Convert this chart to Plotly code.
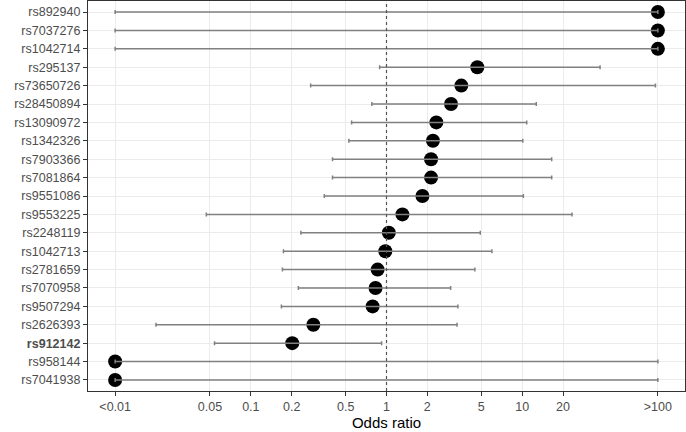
import plotly.graph_objects as go

# SNPs top to bottom
snps = ["rs892940", "rs7037276", "rs1042714", "rs295137", "rs73650726",
        "rs28450894", "rs13090972", "rs1342326", "rs7903366", "rs7081864",
        "rs9551086", "rs9553225", "rs2248119", "rs1042713", "rs2781659",
        "rs7070958", "rs9507294", "rs2626393", "rs912142", "rs958144",
        "rs7041938"]
odds = [100, 100, 100, 4.67, 3.56, 2.99, 2.33, 2.20, 2.13, 2.13,
        1.84, 1.31, 1.04, 0.98, 0.86, 0.83, 0.79, 0.289, 0.202, 0.01, 0.01]
ci_low = [0.01, 0.01, 0.01, 0.89, 0.276, 0.78, 0.553, 0.528, 0.40, 0.40,
          0.348, 0.047, 0.234, 0.174, 0.171, 0.224, 0.168, 0.020, 0.054, 0.01, 0.01]
ci_high = [100, 100, 100, 37.5, 96, 12.7, 10.8, 10.1, 16.5, 16.5,
           10.2, 23.3, 4.91, 5.98, 4.48, 2.97, 3.36, 3.31, 0.92, 100, 100]
tick_vals = [0.01, 0.05, 0.1, 0.2, 0.5, 1, 2, 5, 10, 20, 100]
tick_text = ["<0.01", "0.05", "0.1", "0.2", "0.5", "1", "2", "5", "10", "20", ">100"]
bold_snp = "rs912142"

labels = [f"<b>{s}</b>" if s == bold_snp else s for s in snps]
n = len(labels)

fig = go.Figure()

fig.add_trace(go.Scatter(
    x=odds, y=labels, mode="markers",
    marker=dict(color="black", size=14),
    showlegend=False, hoverinfo="skip"))

# CI bars drawn above the points, like the original
fig.add_trace(go.Scatter(
    x=odds, y=labels, mode="markers",
    marker=dict(color="rgba(0,0,0,0)", size=1),
    error_x=dict(type="data", symmetric=False,
                 array=[h - o for h, o in zip(ci_high, odds)],
                 arrayminus=[o - l for o, l in zip(odds, ci_low)],
                 color="#808080", thickness=1.5, width=2),
    showlegend=False))

fig.add_vline(x=1, line=dict(color="#555555", width=1.2, dash="dot"))

fig.update_layout(
    width=686, height=432,
    margin=dict(l=88, r=1, t=1, b=41),
    plot_bgcolor="white", paper_bgcolor="white",
    font=dict(family="Liberation Sans, Arial, sans-serif", size=12.5, color="#4d4d4d"),
    xaxis=dict(type="log", range=[-2.2, 2.2],
               tickvals=tick_vals, ticktext=tick_text,
               showgrid=True, gridcolor="#ebebeb", gridwidth=1,
               ticks="outside", ticklen=4, tickcolor="#333333",
               showline=True, linecolor="#333333", linewidth=1.2, mirror=True,
               zeroline=False,
               title=dict(text="Odds ratio", font=dict(size=15, color="black"), standoff=2),
               tickfont=dict(size=12.5, color="#4d4d4d")),
    yaxis=dict(type="category", categoryorder="array", categoryarray=labels,
               range=[n - 0.4, -0.6],
               showgrid=True, gridcolor="#ebebeb", gridwidth=1,
               ticks="outside", ticklen=4, tickcolor="#333333",
               showline=True, linecolor="#333333", linewidth=1.2, mirror=True,
               tickfont=dict(size=12.5, color="#4d4d4d")),
)

fig.write_html("out.html", config={"displayModeBar": False},
               post_script="document.body.style.margin='0';document.body.style.overflow='hidden';")
